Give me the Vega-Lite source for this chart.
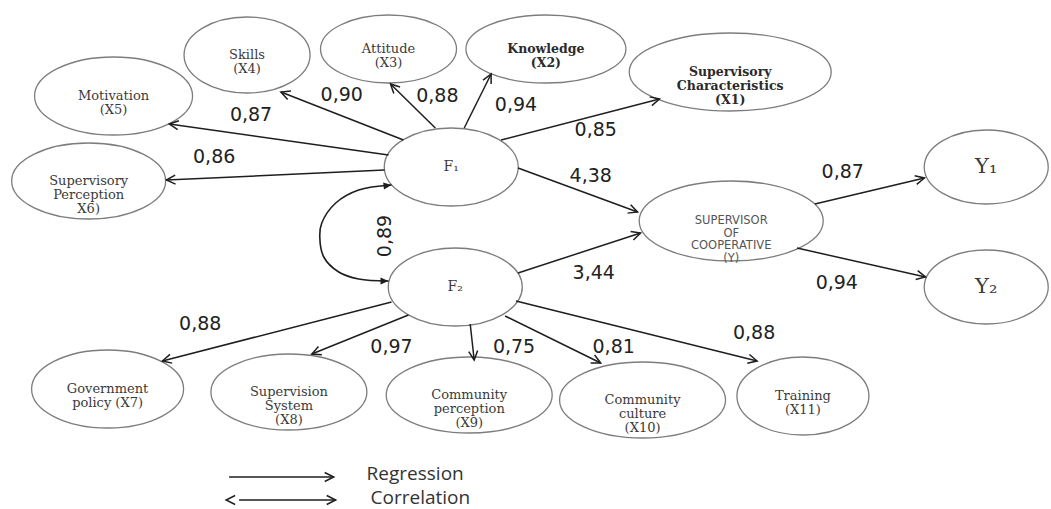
{
  "$schema": "https://vega.github.io/schema/vega-lite/v6.json",
  "width": 1051,
  "height": 509,
  "autosize": {"type": "fit", "contains": "padding"},
  "padding": 0,
  "background": "white",
  "config": {"view": {"stroke": null}},
  "datasets": {
    "nodes": [
      {"id": "X1", "label": "Supervisory\nCharacteristics\n(X1)", "x": 733, "y": 72},
      {"id": "X2", "label": "Knowledge\n(X2)", "x": 548, "y": 49},
      {"id": "X3", "label": "Attitude\n(X3)", "x": 390, "y": 49},
      {"id": "X4", "label": "Skills\n(X4)", "x": 248, "y": 55},
      {"id": "X5", "label": "Motivation\n(X5)", "x": 114, "y": 96},
      {"id": "X6", "label": "Supervisory\nPerception\nX6)", "x": 89, "y": 181},
      {"id": "F1", "label": "F₁", "x": 453, "y": 167},
      {"id": "Y", "label": "SUPERVISOR\nOF\nCOOPERATIVE\n(Y)", "x": 734, "y": 221},
      {"id": "Y1", "label": "Y₁", "x": 990, "y": 167},
      {"id": "Y2", "label": "Y₂", "x": 990, "y": 287},
      {"id": "F2", "label": "F₂", "x": 457, "y": 287},
      {"id": "X7", "label": "Government\npolicy (X7)", "x": 108, "y": 389},
      {"id": "X8", "label": "Supervision\nSystem\n(X8)", "x": 290, "y": 392},
      {"id": "X9", "label": "Community\nperception\n(X9)", "x": 471, "y": 395},
      {"id": "X10", "label": "Community\nculture\n(X10)", "x": 645, "y": 400},
      {"id": "X11", "label": "Training\n(X11)", "x": 806, "y": 396}
    ],
    "edges": [
      {"from": "F1", "to": "X4", "x": 405, "y": 140, "x2": 282, "y2": 92},
      {"from": "F1", "to": "X5", "x": 390, "y": 155, "x2": 170, "y2": 124},
      {"from": "F1", "to": "X6", "x": 386, "y": 170, "x2": 167, "y2": 180},
      {"from": "F1", "to": "X3", "x": 437, "y": 128, "x2": 392, "y2": 84},
      {"from": "F1", "to": "X2", "x": 466, "y": 128, "x2": 493, "y2": 74},
      {"from": "F1", "to": "X1", "x": 503, "y": 140, "x2": 662, "y2": 99},
      {"from": "F1", "to": "Y", "x": 520, "y": 168, "x2": 640, "y2": 212},
      {"from": "F2", "to": "Y", "x": 520, "y": 273, "x2": 643, "y2": 233},
      {"from": "Y", "to": "Y1", "x": 818, "y": 204, "x2": 928, "y2": 178},
      {"from": "Y", "to": "Y2", "x": 800, "y": 248, "x2": 929, "y2": 277},
      {"from": "F2", "to": "X7", "x": 393, "y": 302, "x2": 163, "y2": 361},
      {"from": "F2", "to": "X8", "x": 410, "y": 315, "x2": 313, "y2": 354},
      {"from": "F2", "to": "X9", "x": 472, "y": 324, "x2": 476, "y2": 360},
      {"from": "F2", "to": "X10", "x": 507, "y": 316, "x2": 603, "y2": 363},
      {"from": "F2", "to": "X11", "x": 518, "y": 301, "x2": 760, "y2": 361},
      {"from": "legend", "to": "Regression", "x": 230, "y": 477, "x2": 335, "y2": 477},
      {"from": "legend", "to": "Correlation", "x": 240, "y": 500, "x2": 337, "y2": 500}
    ],
    "extraHeads": [
      {"what": "legend correlation left", "x": 240, "y": 500, "x2": 227, "y2": 500}
    ],
    "curve": [
      {"order": 1, "x": 393, "y": 185},
      {"order": 2, "x": 360, "y": 190},
      {"order": 3, "x": 337, "y": 203},
      {"order": 4, "x": 323, "y": 223},
      {"order": 5, "x": 321, "y": 237},
      {"order": 6, "x": 325, "y": 257},
      {"order": 7, "x": 340, "y": 272},
      {"order": 8, "x": 360, "y": 279},
      {"order": 9, "x": 390, "y": 281}
    ],
    "curveHeads": [
      {"end": "F1", "x": 376, "y": 187, "x2": 393, "y2": 185},
      {"end": "F2", "x": 373, "y": 281, "x2": 390, "y2": 281}
    ],
    "coefs": [
      {"kind": "loading", "label": "0,90", "x": 343, "y": 95},
      {"kind": "loading", "label": "0,87", "x": 252, "y": 115},
      {"kind": "loading", "label": "0,86", "x": 215, "y": 157},
      {"kind": "loading", "label": "0,88", "x": 439, "y": 96},
      {"kind": "loading", "label": "0,94", "x": 518, "y": 105},
      {"kind": "loading", "label": "0,85", "x": 598, "y": 130},
      {"kind": "path", "label": "4,38", "x": 593, "y": 176},
      {"kind": "path", "label": "3,44", "x": 596, "y": 273},
      {"kind": "loading", "label": "0,87", "x": 846, "y": 172},
      {"kind": "loading", "label": "0,94", "x": 840, "y": 283},
      {"kind": "loading", "label": "0,88", "x": 201, "y": 324},
      {"kind": "loading", "label": "0,97", "x": 393, "y": 347},
      {"kind": "loading", "label": "0,75", "x": 516, "y": 347},
      {"kind": "loading", "label": "0,81", "x": 616, "y": 347},
      {"kind": "loading", "label": "0,88", "x": 757, "y": 333},
      {"kind": "correlation", "label": "0,89", "x": 386, "y": 236}
    ],
    "legendText": [
      {"label": "Regression", "x": 368, "y": 474},
      {"label": "Correlation", "x": 372, "y": 498}
    ]
  },
  "layer": [
    {
      "data": {"name": "nodes"},
      "mark": {"type": "point", "filled": true, "fill": "white", "stroke": "#7d7d7d", "strokeWidth": 1.3, "opacity": 1, "size": 4},
      "encoding": {
        "x": {"field": "x", "type": "quantitative", "scale": {"domain": [0, 1051], "nice": false, "zero": false}, "axis": null},
        "y": {"field": "y", "type": "quantitative", "scale": {"domain": [0, 509], "nice": false, "zero": false, "reverse": true}, "axis": null},
        "shape": {
          "field": "id", "type": "nominal", "legend": null,
          "scale": {
            "domain": ["X1", "X2", "X3", "X4", "X5", "X6", "F1", "Y", "Y1", "Y2", "F2", "X7", "X8", "X9", "X10", "X11"],
            "range": [
              "M -101 0 A 101 39 0 1 1 101 0 A 101 39 0 1 1 -101 0 Z",
              "M -80 0 A 80 34 0 1 1 80 0 A 80 34 0 1 1 -80 0 Z",
              "M -68 0 A 68 34 0 1 1 68 0 A 68 34 0 1 1 -68 0 Z",
              "M -63 0 A 63 38 0 1 1 63 0 A 63 38 0 1 1 -63 0 Z",
              "M -79 0 A 79 39 0 1 1 79 0 A 79 39 0 1 1 -79 0 Z",
              "M -77 0 A 77 38 0 1 1 77 0 A 77 38 0 1 1 -77 0 Z",
              "M -67 0 A 67 39 0 1 1 67 0 A 67 39 0 1 1 -67 0 Z",
              "M -92 0 A 92 40 0 1 1 92 0 A 92 40 0 1 1 -92 0 Z",
              "M -62 0 A 62 37 0 1 1 62 0 A 62 37 0 1 1 -62 0 Z",
              "M -62 0 A 62 37 0 1 1 62 0 A 62 37 0 1 1 -62 0 Z",
              "M -67 0 A 67 39 0 1 1 67 0 A 67 39 0 1 1 -67 0 Z",
              "M -76 0 A 76 39 0 1 1 76 0 A 76 39 0 1 1 -76 0 Z",
              "M -78 0 A 78 38 0 1 1 78 0 A 78 38 0 1 1 -78 0 Z",
              "M -83 0 A 83 38 0 1 1 83 0 A 83 38 0 1 1 -83 0 Z",
              "M -83 0 A 83 38 0 1 1 83 0 A 83 38 0 1 1 -83 0 Z",
              "M -66 0 A 66 39 0 1 1 66 0 A 66 39 0 1 1 -66 0 Z"
            ]
          }
        }
      }
    },
    {
      "data": {"name": "edges"},
      "mark": {"type": "rule", "color": "#1e1e1e", "strokeWidth": 1.5},
      "encoding": {
        "x": {"field": "x", "type": "quantitative"},
        "y": {"field": "y", "type": "quantitative"},
        "x2": {"field": "x2"},
        "y2": {"field": "y2"}
      }
    },
    {
      "data": {"name": "edges"},
      "transform": [{"calculate": "atan2(datum.y2 - datum.y, datum.x2 - datum.x) * 180 / PI", "as": "ang"}],
      "mark": {"type": "point", "shape": "M -9 -4.5 L 0 0 L -9 4.5", "filled": false, "stroke": "#1e1e1e", "strokeWidth": 1.5, "opacity": 1, "size": 4},
      "encoding": {
        "x": {"field": "x2", "type": "quantitative"},
        "y": {"field": "y2", "type": "quantitative"},
        "angle": {"field": "ang", "type": "quantitative", "scale": null}
      }
    },
    {
      "data": {"name": "extraHeads"},
      "transform": [{"calculate": "atan2(datum.y2 - datum.y, datum.x2 - datum.x) * 180 / PI", "as": "ang"}],
      "mark": {"type": "point", "shape": "M -9 -4.5 L 0 0 L -9 4.5", "filled": false, "stroke": "#1e1e1e", "strokeWidth": 1.5, "opacity": 1, "size": 4},
      "encoding": {
        "x": {"field": "x2", "type": "quantitative"},
        "y": {"field": "y2", "type": "quantitative"},
        "angle": {"field": "ang", "type": "quantitative", "scale": null}
      }
    },
    {
      "data": {"name": "curve"},
      "mark": {"type": "line", "color": "#1e1e1e", "strokeWidth": 1.6, "interpolate": "catmull-rom"},
      "encoding": {
        "x": {"field": "x", "type": "quantitative"},
        "y": {"field": "y", "type": "quantitative"},
        "order": {"field": "order", "type": "quantitative"}
      }
    },
    {
      "data": {"name": "curveHeads"},
      "transform": [{"calculate": "atan2(datum.y2 - datum.y, datum.x2 - datum.x) * 180 / PI", "as": "ang"}],
      "mark": {"type": "point", "shape": "M -8 -3.5 L 0 0 L -8 3.5 Z", "filled": true, "color": "#1e1e1e", "opacity": 1, "size": 4},
      "encoding": {
        "x": {"field": "x2", "type": "quantitative"},
        "y": {"field": "y2", "type": "quantitative"},
        "angle": {"field": "ang", "type": "quantitative", "scale": null}
      }
    },
    {
      "data": {"name": "nodes"},
      "transform": [{"filter": "indexof(['F1','F2','Y','Y1','Y2','X1','X2'], datum.id) < 0"}],
      "mark": {"type": "text", "font": "DejaVu Serif", "fontSize": 13, "lineHeight": 14, "lineBreak": "\n", "align": "center", "baseline": "middle", "color": "#3a3a3a"},
      "encoding": {
        "x": {"field": "x", "type": "quantitative"},
        "y": {"field": "y", "type": "quantitative"},
        "text": {"field": "label"}
      }
    },
    {
      "data": {"name": "nodes"},
      "transform": [{"filter": "indexof(['X1','X2'], datum.id) >= 0"}],
      "mark": {"type": "text", "font": "DejaVu Serif", "fontSize": 12.5, "fontWeight": "bold", "lineHeight": 14, "lineBreak": "\n", "align": "center", "baseline": "middle", "color": "#2a2a2a"},
      "encoding": {
        "x": {"field": "x", "type": "quantitative"},
        "y": {"field": "y", "type": "quantitative"},
        "text": {"field": "label"}
      }
    },
    {
      "data": {"name": "nodes"},
      "transform": [{"filter": "indexof(['F1','F2'], datum.id) >= 0"}],
      "mark": {"type": "text", "font": "DejaVu Serif", "fontSize": 14, "align": "center", "baseline": "middle", "color": "#3a3a3a"},
      "encoding": {
        "x": {"field": "x", "type": "quantitative"},
        "y": {"field": "y", "type": "quantitative"},
        "text": {"field": "label"}
      }
    },
    {
      "data": {"name": "nodes"},
      "transform": [{"filter": "indexof(['Y1','Y2'], datum.id) >= 0"}],
      "mark": {"type": "text", "font": "DejaVu Serif", "fontSize": 21, "align": "center", "baseline": "middle", "color": "#3a3a3a"},
      "encoding": {
        "x": {"field": "x", "type": "quantitative"},
        "y": {"field": "y", "type": "quantitative"},
        "text": {"field": "label"}
      }
    },
    {
      "data": {"name": "nodes"},
      "transform": [{"filter": "datum.id === 'Y'"}],
      "mark": {"type": "text", "font": "DejaVu Sans", "fontSize": 11.5, "lineHeight": 12.5, "lineBreak": "\n", "align": "center", "baseline": "middle", "color": "#555555"},
      "encoding": {
        "x": {"field": "x", "type": "quantitative"},
        "y": {"field": "y", "type": "quantitative"},
        "text": {"field": "label"}
      }
    },
    {
      "data": {"name": "coefs"},
      "transform": [{"filter": "datum.kind !== 'correlation'"}],
      "mark": {"type": "text", "font": "DejaVu Sans", "fontSize": 19, "align": "center", "baseline": "middle", "color": "#222222"},
      "encoding": {
        "x": {"field": "x", "type": "quantitative"},
        "y": {"field": "y", "type": "quantitative"},
        "text": {"field": "label"}
      }
    },
    {
      "data": {"name": "coefs"},
      "transform": [{"filter": "datum.kind === 'correlation'"}],
      "mark": {"type": "text", "font": "DejaVu Sans", "fontSize": 19, "align": "center", "baseline": "middle", "angle": 270, "color": "#222222"},
      "encoding": {
        "x": {"field": "x", "type": "quantitative"},
        "y": {"field": "y", "type": "quantitative"},
        "text": {"field": "label"}
      }
    },
    {
      "data": {"name": "legendText"},
      "mark": {"type": "text", "font": "Open Sans", "fontSize": 19, "align": "left", "baseline": "middle", "color": "#333333"},
      "encoding": {
        "x": {"field": "x", "type": "quantitative"},
        "y": {"field": "y", "type": "quantitative"},
        "text": {"field": "label"}
      }
    }
  ]
}
